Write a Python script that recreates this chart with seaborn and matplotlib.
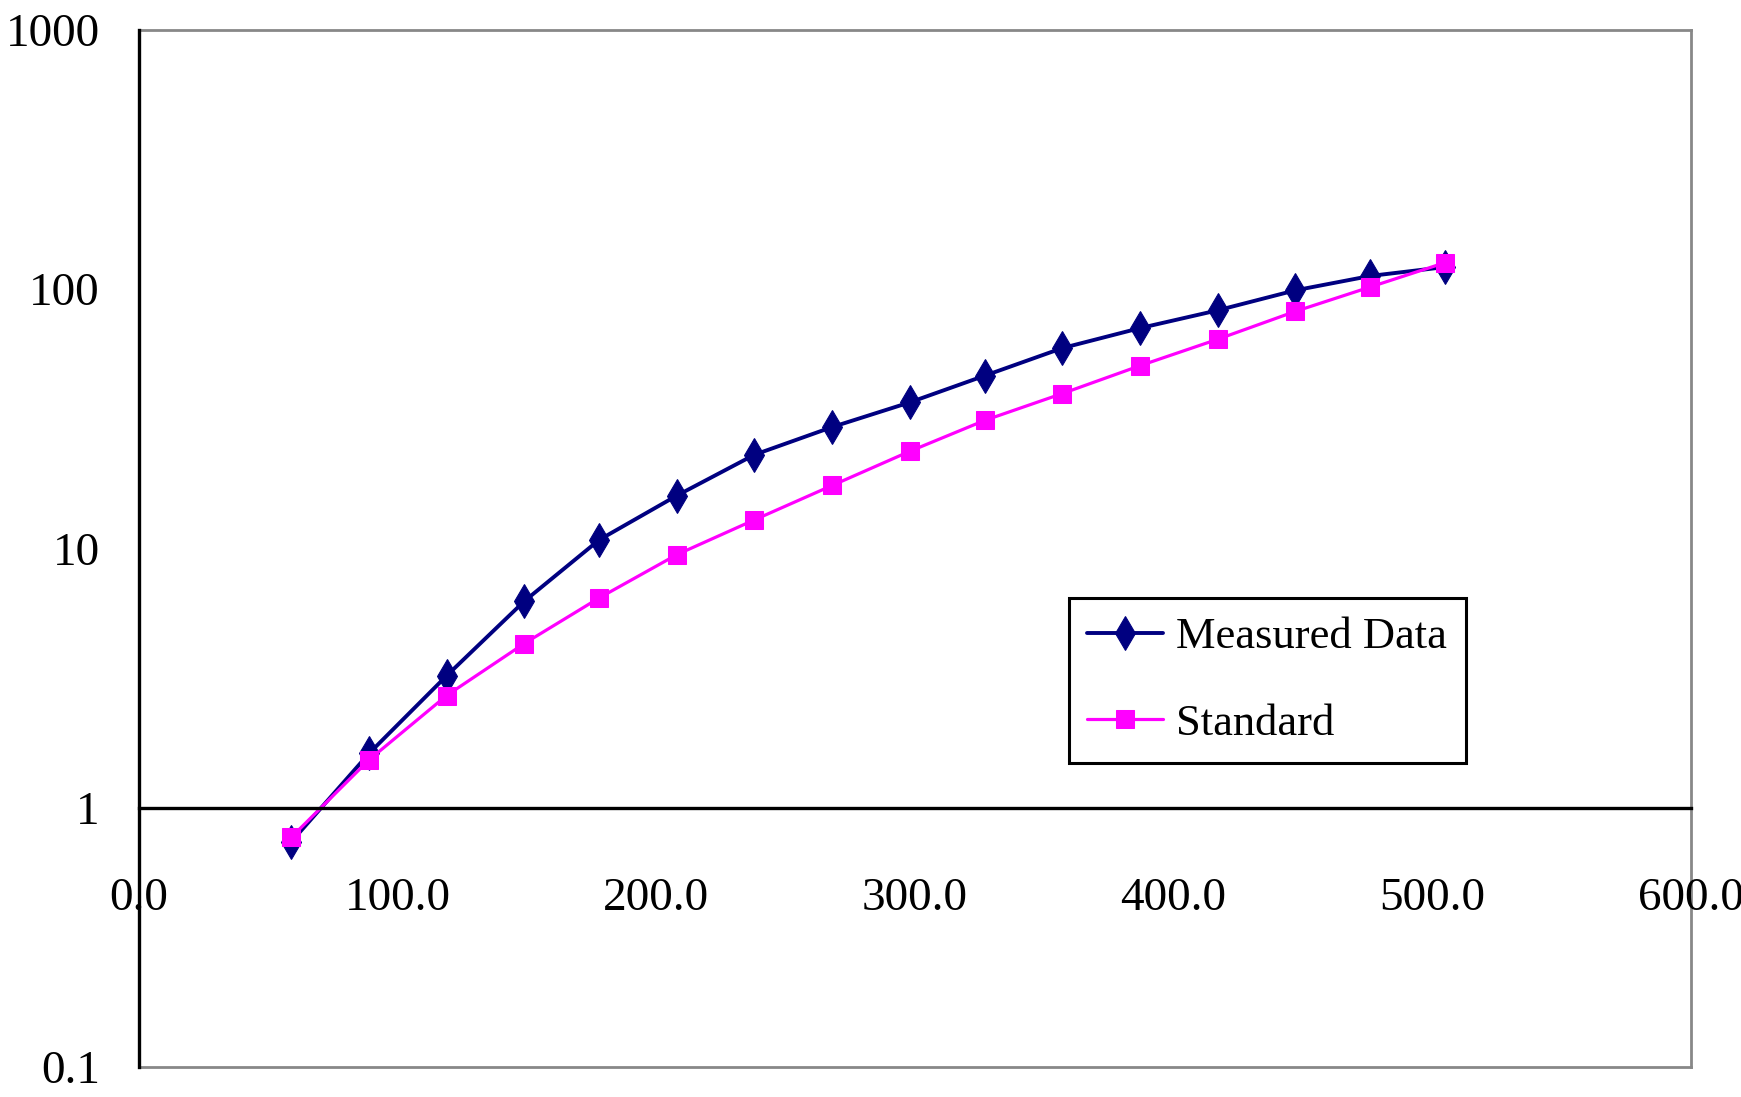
import matplotlib
matplotlib.use("Agg")
import matplotlib.pyplot as plt
import seaborn as sns

# values
temp = [59, 89, 119, 149, 178, 208, 238, 268, 298, 327, 357, 387, 417, 447, 476, 505]
measured = [0.74, 1.62, 3.23, 6.26, 10.8, 16.0, 23.0, 29.4, 36.6, 46.4, 59.3, 70.8, 82.9, 99.0, 112.5, 121.8]
standard = [0.77, 1.53, 2.71, 4.30, 6.45, 9.47, 12.9, 17.5, 23.7, 31.2, 39.6, 50.7, 64.1, 82.1, 102.0, 126.7]

x_ticks = [0, 100, 200, 300, 400, 500, 600]
x_labels = ["0.0", "100.0", "200.0", "300.0", "400.0", "500.0", "600.0"]
y_ticks = [0.1, 1, 10, 100, 1000]
y_labels = ["0.1", "1", "10", "100", "1000"]

sns.set_style("white")
plt.rcParams["font.family"] = ["Liberation Serif", "DejaVu Serif"]
plt.rcParams["font.size"] = 34
plt.rcParams["text.color"] = "black"

fig = plt.figure(figsize=(17.41, 10.97), dpi=100)
pos = [0.0797, 0.0273, 0.8916, 0.9454]

# grey outer frame
frame = fig.add_axes(pos, zorder=0)
frame.set_xticks([])
frame.set_yticks([])
for s in frame.spines.values():
    s.set_color("#888888")
    s.set_linewidth(2)

ax = fig.add_axes(pos, zorder=1)
ax.patch.set_visible(False)

sns.lineplot(x=temp, y=measured, ax=ax, color="#000080", marker="d", markersize=17,
             mec="#000080", mfc="#000080", linewidth=2.8, label="Measured Data")
sns.lineplot(x=temp, y=standard, ax=ax, color="#FF00FF", marker="s", markersize=13,
             mec="#FF00FF", mfc="#FF00FF", linewidth=2.3, label="Standard")

ax.set_yscale("log")
ax.set_xlim(0, 600)
ax.set_ylim(0.1, 1000)
ax.set_xticks(x_ticks)
ax.set_xticklabels(x_labels)
ax.set_yticks(y_ticks)
ax.set_yticklabels(y_labels)
ax.minorticks_off()

ax.spines["top"].set_visible(False)
ax.spines["right"].set_visible(False)
ax.spines["left"].set_color("black")
ax.spines["left"].set_linewidth(2.4)
ax.spines["bottom"].set_position(("data", 1))
ax.spines["bottom"].set_color("black")
ax.spines["bottom"].set_linewidth(2.4)

ax.tick_params(axis="x", direction="in", length=11, width=2, pad=50,
               colors="black", labelcolor="black")
ax.tick_params(axis="y", direction="in", length=9, width=2, pad=28,
               colors="black", labelcolor="black")

leg = ax.legend(loc="upper left", bbox_to_anchor=(0.599, 0.452), borderaxespad=0,
                frameon=True, fancybox=False, edgecolor="black", framealpha=1,
                fontsize=32, handlelength=1.7, handletextpad=0.3,
                borderpad=0.42, labelspacing=1.05)
leg.get_frame().set_linewidth(2.2)
for t in leg.get_texts():
    t.set_color("black")

fig.savefig("out.png", dpi=100)
